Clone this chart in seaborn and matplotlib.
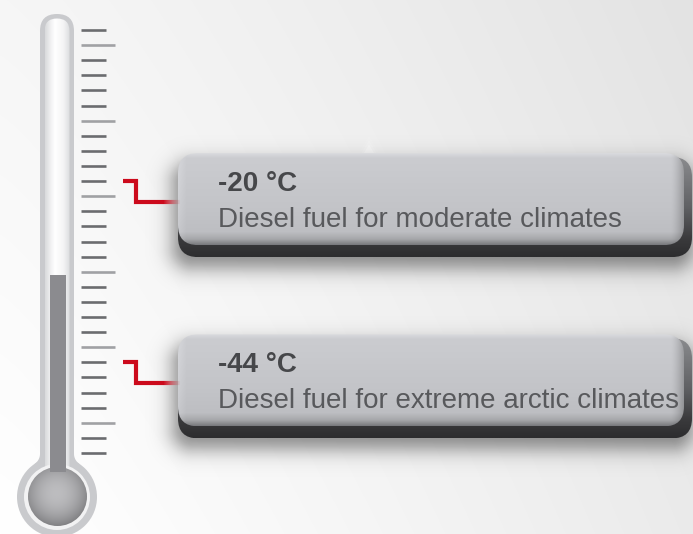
import numpy as np
import matplotlib
matplotlib.use("Agg")
import matplotlib.pyplot as plt
import matplotlib.colors as mcolors
import seaborn as sns
from matplotlib.patches import FancyBboxPatch, Circle, Polygon
from matplotlib.collections import LineCollection

# ---------------- data ----------------
scale_ticks_minor = [0, -4, -6, -8, -10, -14, -16, -18, -20, -24, -26, -28, -30,
                     -34, -36, -38, -40, -44, -46, -48, -50, -54, -56]
scale_ticks_major = [-2, -12, -22, -32, -42, -52]
mercury_level = -32.4
fuel_temps = [-20, -44]
fuel_titles = ["-20 °C", "-44 °C"]
fuel_descriptions = ["Diesel fuel for moderate climates",
                     "Diesel fuel for extreme arctic climates"]

# ---------------- setup ----------------
sns.set_theme(style="white")
plt.rcParams['font.family'] = ['Liberation Sans', 'DejaVu Sans']

W, H = 693, 534
PX0 = 30.0          # pixel row of 0 °C
PX_PER_DEG = 7.554  # pixels per degree on the scale
T_TOP = PX0 / PX_PER_DEG
T_BOTTOM = -(H - PX0) / PX_PER_DEG

fig = plt.figure(figsize=(W / 100, H / 100), dpi=100)
bg = fig.add_axes([0, 0, 1, 1])
ax = fig.add_axes([0, 0, 1, 1])
ax.patch.set_alpha(0)
ax.set_xlim(0, W)
ax.set_ylim(T_BOTTOM, T_TOP)
ax.axis('off')


def t2px(t):
    return H - ax.transData.transform((0, t))[1]


def px2t(p):
    return ax.transData.inverted().transform((0, H - p))[1]


def rgb(c):
    return np.array(mcolors.to_rgb(c))


def vprofile(n, stops):
    pos = np.array([s[0] for s in stops])
    cols = np.array([rgb(s[1]) for s in stops])
    u = np.linspace(0, 1, n)
    return np.stack([np.interp(u, pos, cols[:, i]) for i in range(3)], axis=-1)


def clipped_image(axis, patch, img, extent, z):
    patch.set_facecolor('none')
    patch.set_edgecolor('none')
    axis.add_patch(patch)
    im = axis.imshow(img, extent=extent, aspect='auto', interpolation='bilinear', zorder=z)
    im.set_clip_path(patch)
    return im


# ---------------- background ----------------
xx, yy = np.meshgrid(np.linspace(0, 1, W), np.linspace(0, 1, H))
fx = xx ** 1.2
drop = (1 - yy) * ((1 - fx) * 0.035 + fx * 0.11) + yy * (fx * 0.08)
val = 1 - drop
bg.imshow(np.dstack([val, val, val]).clip(0, 1), extent=[0, W, H, 0], aspect='auto',
          interpolation='bilinear', zorder=0)

# ---------------- thermometer body ----------------
OUT = '#c9cacd'
BX, BY, BR = 57.0, 497.0, 40.0
bg.add_patch(FancyBboxPatch((40, 14), 34, 460, boxstyle='round,pad=0,rounding_size=17',
                            fc=OUT, ec='none', zorder=2))
bg.add_patch(Circle((BX, BY), BR, fc=OUT, ec='none', zorder=2))
rf = 12.0
for side in (-1, 1):
    lx = BX + side * 17.0
    cx = lx + side * rf
    dy = np.sqrt((BR + rf) ** 2 - (cx - BX) ** 2)
    cy = BY - dy
    a_end = np.arctan2(BY - cy, BX - cx)
    a_start = 0.0 if side == -1 else np.pi
    angs = np.linspace(a_start, a_end, 20)
    pts = [(cx + rf * np.cos(a), cy + rf * np.sin(a)) for a in angs]
    pts += [(BX, BY), (lx, cy)]
    bg.add_patch(Polygon(pts, closed=True, fc=OUT, ec='none', zorder=2))

# inner white tube with shading
inner = FancyBboxPatch((44.5, 18.5), 25, 460, boxstyle='round,pad=0,rounding_size=12.5')
hprof = vprofile(50, [(0, '#d9dadc'), (0.25, '#f3f3f4'), (0.4, '#ffffff'),
                      (0.75, '#f4f4f5'), (1.0, '#dcdddf')])
tube_img = np.repeat(hprof[None, :, :], 10, axis=0)
clipped_image(bg, inner, tube_img, [44.5, 69.5, 480, 18], 3)
bg.add_patch(Circle((BX, BY), 33.0, fc='#f2f2f3', ec='none', zorder=3))

# gray ball with radial gradient
gx, gy = np.meshgrid(np.linspace(-1, 1, 80), np.linspace(-1, 1, 80))
d = np.sqrt((gx + 0.05) ** 2 + (gy + 0.1) ** 2)
bv = 0.74 - 0.19 * np.clip(d, 0, 1.2) ** 2
ball_img = np.dstack([bv, bv, bv + 0.01]).clip(0, 1)
ball = Circle((BX + 0.5, BY - 0.5), 29.5)
clipped_image(bg, ball, ball_img, [BX + 0.5 - 30, BX + 0.5 + 30, BY + 29.5, BY - 30.5], 4)

# faint sparkle above the first box
for k, a in enumerate([0.12, 0.2, 0.35]):
    s = 1.0 - 0.25 * k
    bg.add_patch(Polygon([(369 - 10 * s, 153), (369, 153 - 17 * s), (369 + 10 * s, 153)],
                         closed=True, fc='white', ec='none', alpha=a, zorder=1))

# ---------------- boxes ----------------
X0, X1_BODY, X1_DARK = 178, 684, 692
for t in fuel_temps:
    ty = t2px(t)
    top, body_bot, dark_bot = ty - 28, ty + 64, ty + 76

    # soft shadow
    mx0, mx1, my0, my1 = X0 - 40, X1_DARK + 10, top - 20, dark_bot + 50
    sx, sy = np.meshgrid(np.arange(mx0, mx1) + 0.5, np.arange(my0, my1) + 0.5)
    rx0, rx1, ry0, ry1, rr = X0 - 5, X1_DARK, top + 10, dark_bot + 11, 20
    cxr, cyr = (rx0 + rx1) / 2, (ry0 + ry1) / 2
    bx, byy = (rx1 - rx0) / 2, (ry1 - ry0) / 2
    qx = np.abs(sx - cxr) - bx + rr
    qy = np.abs(sy - cyr) - byy + rr
    sd = np.sqrt(np.maximum(qx, 0) ** 2 + np.maximum(qy, 0) ** 2) + np.minimum(np.maximum(qx, qy), 0) - rr
    alpha = 0.45 / (1 + np.exp(sd / 6.0))
    sh = np.zeros(sx.shape + (4,))
    sh[..., 3] = alpha
    bg.imshow(sh, extent=[mx0, mx1, my1, my0], aspect='auto', interpolation='bilinear', zorder=5)

    # dark bottom/side shell
    dark = FancyBboxPatch((X0, top + 4), X1_DARK - X0, dark_bot - top - 4,
                          boxstyle='round,pad=0,rounding_size=20')
    dh = int(dark_bot - top - 4)
    dimg = np.repeat(vprofile(dh, [(0, '#8a8b8e'), (0.5, '#606164'), (0.82, '#3a3a3c'),
                                   (1.0, '#2d2d2f')])[:, None, :], 20, axis=1)
    clipped_image(bg, dark, dimg, [X0, X1_DARK, dark_bot, top + 4], 6)

    # main body with gradient
    body = FancyBboxPatch((X0, top), X1_BODY - X0, body_bot - top,
                          boxstyle='round,pad=0,rounding_size=20')
    bh = int(body_bot - top)
    bw = int(X1_BODY - X0)
    vimg = vprofile(bh, [(0, '#d9dadd'), (0.05, '#cbccd0'), (0.6, '#c3c4c8'),
                         (0.86, '#bdbec2'), (0.94, '#a6a7aa'), (1.0, '#7a7b7f')])
    img = np.repeat(vimg[:, None, :], bw, axis=1)
    xs = np.arange(bw)
    right = np.clip((xs - (bw - 14)) / 14, 0, 1) ** 1.5
    left = np.clip(1 - xs / 8, 0, 1)
    img = img * (1 - 0.25 * right)[None, :, None] + 0.04 * left[None, :, None]
    clipped_image(bg, body, img.clip(0, 1), [X0, X1_BODY, body_bot, top], 7)

bg.set_xlim(0, W)
bg.set_ylim(H, 0)
bg.axis('off')

# ---------------- data marks on the temperature axis ----------------
# mercury column
m_bottom = px2t(472)
ax.bar(x=[57.8], height=[mercury_level - m_bottom], bottom=m_bottom, width=15.5,
       color='#8b8b8f', edgecolor='none', zorder=3)

# scale ticks
ax.hlines(scale_ticks_minor, 81, 106, colors='#6b6c6f', lw=1.9, zorder=3)
ax.hlines(scale_ticks_major, 81, 115, colors='#a0a1a4', lw=1.9, zorder=3)

RED = '#cc0a1c'
DROP = 21 / PX_PER_DEG
for t, title, desc in zip(fuel_temps, fuel_titles, fuel_descriptions):
    ax.plot([123, 135.5, 135.5, 163], [t, t, t - DROP, t - DROP], color=RED, lw=3.0,
            solid_capstyle='butt', solid_joinstyle='miter', zorder=4)
    xs = np.linspace(163, 180, 18)
    segs = [[(xs[i], t - DROP), (xs[i + 1], t - DROP)] for i in range(len(xs) - 1)]
    cols = [(0.8, 0.04, 0.11, 1 - i / (len(xs) - 1)) for i in range(len(xs) - 1)]
    ax.add_collection(LineCollection(segs, colors=cols, lw=3.0, capstyle='butt', zorder=4))

    ax.text(218, t - 10 / PX_PER_DEG, title, fontsize=20, fontweight='bold',
            color='#46474a', va='baseline', ha='left', zorder=8)
    ax.text(218, t - 45.5 / PX_PER_DEG, desc, fontsize=20, color='#58595c',
            va='baseline', ha='left', zorder=8)

sns.despine(ax=ax, left=True, bottom=True)
fig.savefig('out.png', dpi=100)
